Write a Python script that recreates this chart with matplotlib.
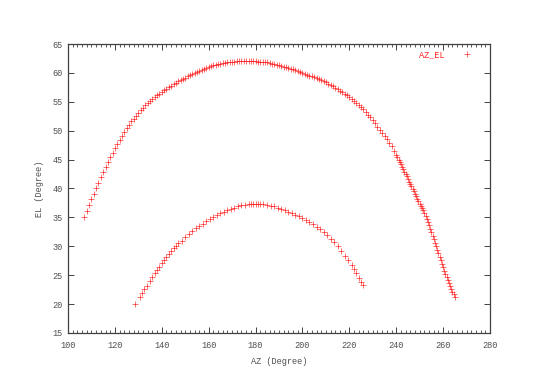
import matplotlib
matplotlib.use("Agg")
import matplotlib.pyplot as plt
from matplotlib.ticker import MultipleLocator

# ---- data ----
upper_az = [107, 108, 109, 110, 111, 112, 113, 114, 115, 116, 117, 118, 119, 120,
            121, 122, 123, 124, 125, 126, 127, 128, 129, 130, 131, 132, 133, 134,
            135, 136, 137, 138, 139, 140, 141, 142, 143, 144, 145, 146, 147, 148,
            149, 150, 151, 152, 153, 154, 155, 156, 157, 158, 159, 160, 161, 162,
            163, 164, 165, 166, 167, 168, 169, 170, 171, 172, 173, 174, 175, 176,
            177, 178, 179, 180, 181, 182, 183, 184, 185, 186, 187, 188, 189, 190,
            191, 192, 193, 194, 195, 196, 197, 198, 199, 200, 201, 202, 203, 204,
            205, 206, 207, 208, 209, 210, 211, 212, 213, 214, 215, 216, 217, 218,
            219, 220, 221, 222, 223, 224, 225, 226, 227, 228, 229, 230, 231, 232,
            233, 234, 235, 236, 237, 238, 239, 240, 240.5, 241, 241.5, 242, 242.5,
            243, 243.5, 244, 244.5, 245, 245.5, 246, 246.5, 247, 247.5, 248, 248.5,
            249, 249.5, 250, 250.5, 251, 251.5, 252, 252.5, 253, 253.5, 254, 254.5,
            255, 255.5, 256, 256.5, 257, 257.5, 258, 258.5, 259, 259.5, 260, 260.5,
            261, 261.5, 262, 262.5, 263, 263.5, 264, 264.5, 265]
upper_el = [35.0, 36.1, 37.1, 38.1, 39.1, 40.0, 41.0, 42.0, 42.9, 43.8, 44.6, 45.4, 46.2, 47.0,
            47.7, 48.4, 49.1, 49.8, 50.4, 51.0, 51.6, 52.1, 52.6, 53.1, 53.6, 54.0, 54.4, 54.8,
            55.2, 55.5, 55.8, 56.1, 56.4, 56.7, 57.0, 57.3, 57.6, 57.8, 58.1, 58.3, 58.6, 58.8,
            59.0, 59.2, 59.4, 59.6, 59.8, 60.0, 60.2, 60.4, 60.55, 60.7, 60.85, 61.0, 61.15, 61.3,
            61.4, 61.5, 61.6, 61.7, 61.75, 61.8, 61.85, 61.9, 61.95, 62.0, 62.0, 62.0, 62.0, 62.0,
            62.0, 62.0, 62.0, 62.0, 61.97, 61.95, 61.9, 61.85, 61.8, 61.7, 61.6, 61.5, 61.4, 61.3,
            61.2, 61.1, 61.0, 60.9, 60.75, 60.6, 60.45, 60.3, 60.15, 60.0, 59.85, 59.7, 59.55, 59.4,
            59.25, 59.1, 58.95, 58.8, 58.6, 58.4, 58.15, 57.9, 57.65, 57.4, 57.15, 56.9, 56.65, 56.4,
            56.1, 55.8, 55.45, 55.1, 54.75, 54.4, 54.05, 53.7, 53.25, 52.8, 52.3, 51.8, 51.25, 50.7,
            50.15, 49.6, 49.05, 48.5, 47.9, 47.3, 46.55, 45.8, 45.4, 45.0, 44.6, 44.2, 43.8,
            43.35, 42.9, 42.5, 42.1, 41.65, 41.2, 40.8, 40.4, 39.95, 39.5, 39.1, 38.7,
            38.25, 37.8, 37.4, 37.0, 36.6, 36.2, 35.8, 35.25, 34.7, 34.15, 33.6, 33.0,
            32.4, 31.8, 31.2, 30.6, 30.0, 29.4, 28.8, 28.2, 27.6, 27.0, 26.4, 25.8,
            25.25, 24.7, 24.1, 23.6, 23.1, 22.6, 22.1, 21.7, 21.3]

lower_az = [128.5, 130.5, 131.5, 132.5, 133.5, 135, 136, 137, 138, 139, 140, 141, 142, 143,
            144, 145, 146, 147, 148.5, 150, 151.5, 153, 154.5, 156, 157.5, 159, 160.5, 162,
            163.5, 165, 166.5, 168, 169.5, 171, 172.5, 174, 175.5, 177, 178, 179, 180, 181,
            182, 183, 185, 186.5, 188, 189.5, 191, 192.5, 194, 195.5, 197, 198.5, 200, 201.5,
            203, 204.5, 206, 207.5, 209, 210.5, 212, 213.5, 215, 216.5, 218, 219.5, 221, 222,
            223, 224, 225, 226]
lower_el = [20.0, 21.3, 22.0, 22.6, 23.2, 24.0, 24.7, 25.3, 25.9, 26.5, 27.1, 27.6, 28.2, 28.7,
            29.2, 29.7, 30.1, 30.5, 31.0, 31.6, 32.1, 32.6, 33.1, 33.5, 33.9, 34.3, 34.7, 35.0,
            35.4, 35.7, 36.0, 36.3, 36.5, 36.7, 36.9, 37.1, 37.2, 37.3, 37.35, 37.4, 37.4, 37.4,
            37.35, 37.3, 37.2, 37.0, 36.9, 36.7, 36.5, 36.3, 36.0, 35.8, 35.5, 35.2, 34.9, 34.6,
            34.2, 33.8, 33.4, 33.0, 32.5, 31.9, 31.3, 30.7, 30.0, 29.2, 28.4, 27.6, 26.7, 26.0,
            25.3, 24.6, 23.9, 23.3]

series_label = "AZ_EL"
x_label = "AZ (Degree)"
y_label = "EL (Degree)"

# ---- style ----
FONT = "Liberation Mono"
TXT = "#505050"
AXC = "#404040"
RED = "#ff2020"

fig = plt.figure(figsize=(5.53, 3.89), dpi=100)
ax = fig.add_axes([68 / 553, 1 - 333 / 389, (490 - 68) / 553, (333 - 44) / 389])

az_all = upper_az + lower_az
el_all = upper_el + lower_el
ax.plot(az_all, el_all, linestyle="none", marker="+", color=RED,
        markeredgecolor=RED, markerfacecolor=RED,
        markersize=4, markeredgewidth=0.45, label=series_label)

ax.set_xlim(100, 280)
ax.set_ylim(15, 65)
ax.xaxis.set_major_locator(MultipleLocator(20))
ax.xaxis.set_minor_locator(MultipleLocator(2))
ax.yaxis.set_major_locator(MultipleLocator(5))

for s in ax.spines.values():
    s.set_color(AXC)
    s.set_linewidth(0.9)

ax.tick_params(axis="x", which="major", direction="in", length=4, width=0.7,
               color=AXC, top=True, bottom=True, pad=6)
ax.tick_params(axis="x", which="minor", direction="in", length=2, width=0.6,
               color=AXC, top=True, bottom=True)
ax.tick_params(axis="y", which="major", direction="in", length=4, width=0.7,
               color=AXC, left=True, right=True, pad=4)
for lab in ax.get_xticklabels() + ax.get_yticklabels():
    lab.set_fontfamily(FONT)
    lab.set_fontsize(6.2)
    lab.set_color(TXT)

ax.set_xlabel(x_label, fontfamily=FONT, fontsize=6.2, color=TXT, labelpad=5)
ax.set_ylabel(y_label, fontfamily=FONT, fontsize=6.2, color=TXT, labelpad=6)

leg = ax.legend(loc="upper right", frameon=False, markerfirst=False,
                handlelength=1.5, handletextpad=1.8, borderaxespad=0.3,
                prop={"family": FONT, "size": 6.2}, labelcolor=RED,
                bbox_to_anchor=(0.975, 1.0))

fig.savefig("out.png", dpi=100)
